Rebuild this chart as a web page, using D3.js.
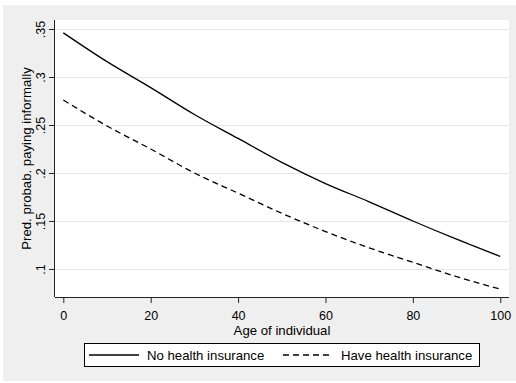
<!DOCTYPE html>
<html>
<head>
<meta charset="utf-8">
<script src="https://cdn.jsdelivr.net/npm/d3@7"></script>
<style>
  body { margin: 0; background: #fff; }
  text { font-family: Arial, "Liberation Sans", sans-serif; fill: #000; }
</style>
</head>
<body>
<script>
const width = 516,
  height = 383;

// data
const ages = [0, 10, 20, 30, 40, 50, 60, 70, 80, 90, 100];
const noInsurance = [0.346, 0.316, 0.289, 0.261, 0.236, 0.211, 0.189, 0.170, 0.150, 0.131, 0.113];
const haveInsurance = [0.276, 0.249, 0.225, 0.200, 0.179, 0.158, 0.139, 0.122, 0.107, 0.092, 0.079];
const xTicks = [0, 20, 40, 60, 80, 100];
const yTicks = [0.1, 0.15, 0.2, 0.25, 0.3, 0.35];
const yTickLabels = [".1", ".15", ".2", ".25", ".3", ".35"];
const seriesNames = ["No health insurance", "Have health insurance"];

const plot = { left: 55, right: 509, top: 20, bottom: 297 };

const xScale = d3
  .scaleLinear()
  .domain([-1.9, 102])
  .range([plot.left, plot.right]);

const yScale = d3
  .scaleLinear()
  .domain([0.0708, 0.3594])
  .range([plot.bottom, plot.top]);

const svg = d3
  .select("body")
  .append("svg")
  .attr("width", width)
  .attr("height", height);

// graph region
svg
  .append("rect")
  .attr("x", 3)
  .attr("y", 5)
  .attr("width", width - 3)
  .attr("height", 376)
  .attr("fill", "#efefef");

// plot region
svg
  .append("rect")
  .attr("x", plot.left)
  .attr("y", plot.top)
  .attr("width", plot.right - plot.left)
  .attr("height", plot.bottom - plot.top)
  .attr("fill", "#fff");

// gridlines
svg
  .append("g")
  .selectAll("line")
  .data(yTicks)
  .enter()
  .append("line")
  .attr("x1", plot.left)
  .attr("x2", plot.right)
  .attr("y1", d => Math.round(yScale(d)) + 0.5)
  .attr("y2", d => Math.round(yScale(d)) + 0.5)
  .attr("stroke", "#e6e6e6")
  .attr("stroke-width", 1.2);

// x axis
const xAxis = d3
  .axisBottom(xScale)
  .tickValues(xTicks)
  .tickSize(6)
  .tickSizeOuter(0)
  .tickPadding(8);

const gx = svg
  .append("g")
  .attr("transform", `translate(0,${plot.bottom})`)
  .call(xAxis);
gx.select(".domain").attr("d", `M${plot.left},0.5H${plot.right}`).attr("stroke", "#222");
gx.selectAll(".tick line").attr("stroke", "#222");
gx.selectAll(".tick text")
  .attr("font-size", 12.5)
  .attr("font-family", "Arial, 'Liberation Sans', sans-serif")
  .attr("fill", "#000");

// y axis
const yAxis = d3
  .axisLeft(yScale)
  .tickValues(yTicks)
  .tickFormat((d, i) => yTickLabels[i])
  .tickSize(6)
  .tickSizeOuter(0);

const gy = svg
  .append("g")
  .attr("transform", `translate(${plot.left},0)`)
  .call(yAxis);
gy.select(".domain").attr("d", `M-0.5,${plot.top}V${plot.bottom}`).attr("stroke", "#222");
gy.selectAll(".tick line").attr("stroke", "#222");
gy.selectAll(".tick text")
  .attr("x", null)
  .attr("dy", null)
  .attr("transform", "translate(-10,0) rotate(-90)")
  .attr("text-anchor", "middle")
  .attr("font-size", 12.5)
  .attr("font-family", "Arial, 'Liberation Sans', sans-serif")
  .attr("fill", "#000");

// lines
const line = d3
  .line()
  .x((d, i) => xScale(ages[i]))
  .y(d => yScale(d))
  .curve(d3.curveMonotoneX);

svg
  .append("path")
  .datum(noInsurance)
  .attr("d", line)
  .attr("fill", "none")
  .attr("stroke", "#000")
  .attr("stroke-width", 1.3);

svg
  .append("path")
  .datum(haveInsurance)
  .attr("d", line)
  .attr("fill", "none")
  .attr("stroke", "#000")
  .attr("stroke-width", 1.3)
  .attr("stroke-dasharray", "6,4");

// axis titles
svg
  .append("text")
  .attr("x", (plot.left + plot.right) / 2)
  .attr("y", 335)
  .attr("text-anchor", "middle")
  .attr("font-size", 13.2)
  .text("Age of individual");

svg
  .append("text")
  .attr("transform", `translate(31,${(plot.top + plot.bottom) / 2}) rotate(-90)`)
  .attr("text-anchor", "middle")
  .attr("font-size", 13.2)
  .text("Pred. probab. paying informally");

// legend
const legend = svg.append("g");
legend
  .append("rect")
  .attr("x", 84.5)
  .attr("y", 343.5)
  .attr("width", 395)
  .attr("height", 23)
  .attr("fill", "#fff")
  .attr("stroke", "#000")
  .attr("stroke-width", 1);

const legendItems = [
  { x: 89, textX: 147, dash: null },
  { x: 283, textX: 341, dash: "6,4" }
];

legend
  .selectAll("g")
  .data(seriesNames)
  .enter()
  .append("g")
  .each(function(name, i) {
    const item = legendItems[i];
    const g = d3.select(this);
    g.append("line")
      .attr("x1", item.x)
      .attr("x2", item.x + 50)
      .attr("y1", 355)
      .attr("y2", 355)
      .attr("stroke", "#000")
      .attr("stroke-width", 1.3)
      .attr("stroke-dasharray", item.dash);
    g.append("text")
      .attr("x", item.textX)
      .attr("y", 359.5)
      .attr("font-size", 13.2)
      .text(name);
  });
</script>
</body>
</html>
